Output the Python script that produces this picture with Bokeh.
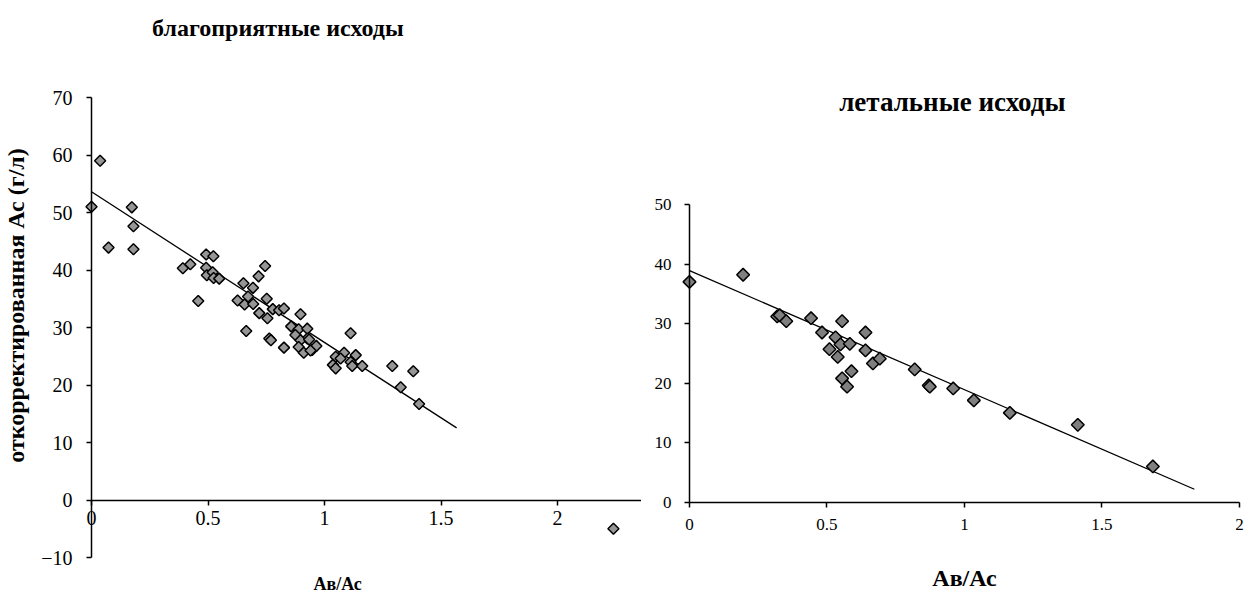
import numpy as np
from bokeh.plotting import figure
from bokeh.models import FixedTicker, LinearAxis, Range1d, Label
from bokeh.layouts import row
from bokeh.embed import file_html
from bokeh.resources import INLINE

# ---- data: favourable outcomes (left) ----
fav_x = [0.0, 0.037, 0.073, 0.173, 0.18, 0.18, 0.392, 0.424, 0.458, 0.492,
         0.523, 0.492, 0.495, 0.52, 0.524, 0.548, 0.627, 0.652, 0.664, 0.657,
         0.672, 0.693, 0.694, 0.717, 0.72, 0.745, 0.752, 0.755, 0.778, 0.805,
         0.826, 0.763, 0.77, 0.826, 0.857, 0.897, 0.889, 0.926, 0.875, 0.926,
         0.897, 0.889, 0.911, 0.947, 0.965, 0.934, 0.94, 1.048, 1.036, 1.112,
         1.084, 1.134, 1.069, 1.112, 1.048, 1.119, 1.162, 1.291, 1.381, 1.327,
         1.406, 2.24]
fav_y = [51.0, 59.0, 43.9, 50.9, 47.6, 43.6, 40.3, 41.0, 34.6, 42.7,
         42.4, 40.4, 39.1, 39.6, 38.6, 38.5, 34.7, 37.7, 29.4, 34.0,
         35.4, 36.9, 34.1, 38.9, 32.5, 40.7, 35.0, 31.6, 33.2, 33.0,
         33.3, 28.1, 27.8, 26.5, 30.2, 32.3, 29.7, 29.8, 28.7, 28.1,
         27.8, 26.6, 25.6, 26.1, 26.8, 27.9, 26.0, 24.9, 23.5, 29.0,
         25.6, 25.2, 24.6, 24.0, 22.9, 23.3, 23.3, 23.3, 22.4, 19.6,
         16.7, -5.0]
fav_trend = {"intercept": 53.6, "slope": -26.2, "x_end": 1.567}

# ---- data: lethal outcomes (right) ----
let_x = [0.0, 0.195, 0.319, 0.328, 0.352, 0.442, 0.482, 0.509, 0.531, 0.539,
         0.555, 0.549, 0.583, 0.555, 0.573, 0.589, 0.64, 0.64, 0.667, 0.692,
         0.819, 0.870, 0.874, 0.959, 1.034, 1.165, 1.412, 1.685]
let_y = [37.0, 38.2, 31.2, 31.4, 30.4, 30.9, 28.5, 25.7, 27.7, 24.4,
         30.4, 26.5, 26.6, 20.8, 19.4, 22.0, 28.5, 25.5, 23.3, 24.1,
         22.3, 19.6, 19.4, 19.1, 17.1, 15.0, 13.0, 6.0]
let_trend = {"intercept": 38.9, "slope": -20.0, "x_end": 1.836}

x_ticks = [0, 0.5, 1, 1.5, 2]
fav_y_ticks = [-10, 0, 10, 20, 30, 40, 50, 60, 70]
let_y_ticks = [0, 10, 20, 30, 40, 50]

FONT = "Liberation Serif"


def make_axis(ticks, bounds, size, standoff):
    ax = LinearAxis(fixed_location=0, ticker=FixedTicker(ticks=ticks), bounds=bounds)
    ax.axis_line_color = "black"
    ax.axis_line_width = 1.5
    ax.major_tick_line_color = "black"
    ax.major_tick_line_width = 1.5
    ax.major_tick_in = 0
    ax.major_tick_out = 5
    ax.minor_tick_line_color = None
    ax.major_label_text_font = FONT
    ax.major_label_text_font_size = size
    ax.major_label_text_color = "black"
    ax.major_label_standoff = standoff
    return ax


def base(width, x_range, y_range):
    p = figure(width=width, height=604, x_range=x_range, y_range=y_range,
               output_backend="svg", toolbar_location=None,
               min_border_left=0, min_border_right=0,
               min_border_top=0, min_border_bottom=0,
               x_axis_location=None, y_axis_location=None)
    p.outline_line_color = None
    p.grid.visible = False
    p.background_fill_color = "white"
    p.border_fill_color = "white"
    return p


def text_label(p, x, y, text, size, angle=0.0):
    p.add_layout(Label(x=x, y=y, text=text, text_font=FONT, text_font_size=size,
                       text_font_style="bold", text_align="center", angle=angle,
                       text_baseline="middle", text_color="black"))


# ---------------- left figure ----------------
p1 = base(641, Range1d(-0.3906, 2.3605), Range1d(-18.17, 86.87))
p1.add_layout(make_axis(x_ticks, (0, 2.3605), "20px", 6), "below")
p1.add_layout(make_axis(fav_y_ticks, (-10, 70), "20px", 14), "left")

ft_x = np.array([0.0, fav_trend["x_end"]])
p1.line(ft_x, fav_trend["intercept"] + fav_trend["slope"] * ft_x, line_color="black", line_width=1.3)
p1.scatter(fav_x, fav_y, marker="square", angle=np.pi / 4, size=7.8,
           fill_color="#969696", line_color="black", line_width=1.5)

text_label(p1, 0.80, 82.17, "благоприятные исходы", "24px")
text_label(p1, 1.056, -14.52, "Ав/Ас", "18px")
text_label(p1, -0.326, 33.83, "откорректированная Ас (г/л)", "24px", angle=np.pi / 2)

# ---------------- right figure ----------------
p2 = base(605, Range1d(-0.1745, 2.0255), Range1d(-17.18, 84.26))
p2.add_layout(make_axis(x_ticks, (0, 2), "17px", 12), "below")
p2.add_layout(make_axis(let_y_ticks, (0, 50), "17px", 13), "left")

lt_x = np.array([0.0, let_trend["x_end"]])
p2.line(lt_x, let_trend["intercept"] + let_trend["slope"] * lt_x, line_color="black", line_width=1.3)
p2.scatter(let_x, let_y, marker="square", angle=np.pi / 4, size=9,
           fill_color="#7f7f7f", line_color="black", line_width=1.5)

text_label(p2, 0.956, 67.13, "летальные исходы", "27px")
text_label(p2, 1.0, -12.65, "Ав/Ас", "24px")

layout = row(p1, p2, spacing=0)
open("out.html", "w").write(file_html(layout, INLINE))
